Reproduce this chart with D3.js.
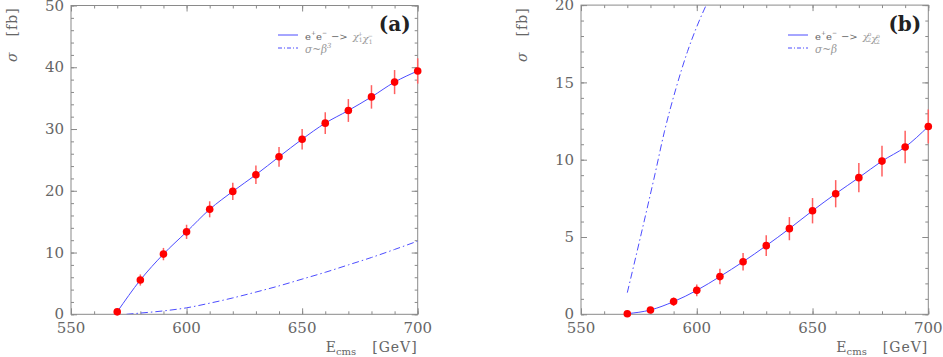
<!DOCTYPE html>
<html><head><meta charset="utf-8">
<script src="https://cdn.jsdelivr.net/npm/d3@7"></script>
<style>
html,body{margin:0;padding:0;background:#fff;}
svg{display:block;}
</style></head>
<body>
<svg id="chart" width="943" height="357" font-family="DejaVu Serif, Liberation Serif, serif"></svg>
<script>
// ---- data ----
const energies = [570,580,590,600,610,620,630,640,650,660,670,680,690,700];
// panel (a): e+e- -> chi1+ chi1-
const sigmaA = [0.4,5.55,9.75,13.35,17.0,19.9,22.6,25.5,28.35,30.95,33.0,35.2,37.6,39.4];
const errA   = [0.3,0.9,1.0,1.15,1.3,1.4,1.5,1.6,1.65,1.75,1.85,1.9,1.95,2.05];
const beta3X = [574,580,590,600,610,620,630,640,650,660,670,680,690,700];
const beta3A = [0,0.2,0.55,1.05,1.8,2.65,3.6,4.6,5.7,6.8,8.0,9.2,10.5,11.85];
// panel (b): e+e- -> chi2o chi2o
const sigmaB = [0.04,0.28,0.82,1.55,2.44,3.4,4.44,5.54,6.7,7.8,8.84,9.91,10.82,12.15];
const errB   = [0.05,0.15,0.27,0.38,0.5,0.57,0.67,0.75,0.82,0.88,0.95,1.0,1.05,1.1];
const betaX  = [570,576,582,586,591,596,600,605];
const betaB  = [1.4,5.2,9.1,11.8,14.6,17.0,18.6,20.3];
// axes
const xTicks  = [550,600,650,700];
const yTicksA = [0,10,20,30,40,50];
const yTicksB = [0,5,10,15,20];

const svg = d3.select("#chart");
const AX = "#8a8a8a", LBL = "#666", BLUE = "#4c4cff", RED = "#ff0000", ERR = "#ff6060";

function panel(cfg){
  const x = d3.scaleLinear().domain([550,700]).range([cfg.left, cfg.right]);
  const y = d3.scaleLinear().domain([0, cfg.ymax]).range([cfg.bottom, cfg.top]);
  const g = svg.append("g");
  const clipId = "clip" + cfg.id;
  svg.append("clipPath").attr("id", clipId).append("rect")
    .attr("x", cfg.left).attr("y", cfg.top)
    .attr("width", cfg.right - cfg.left).attr("height", cfg.bottom - cfg.top);

  // frame
  g.append("rect").attr("x", cfg.left).attr("y", cfg.top)
    .attr("width", cfg.right - cfg.left).attr("height", cfg.bottom - cfg.top)
    .attr("fill", "none").attr("stroke", AX).attr("stroke-width", 1);

  // ticks via d3 axes (inward)
  const xMinor = d3.range(550, 701, 10);
  const yMinor = d3.range(0, cfg.ymax + 0.001, cfg.minorY);
  function styleAxis(sel){ sel.select(".domain").remove(); sel.selectAll("line").attr("stroke", AX); sel.selectAll("text").remove(); }
  g.append("g").attr("transform", `translate(0,${cfg.bottom})`)
    .call(d3.axisTop(x).tickValues(xMinor).tickSize(3).tickFormat("")).call(styleAxis);
  g.append("g").attr("transform", `translate(0,${cfg.bottom})`)
    .call(d3.axisTop(x).tickValues(xTicks).tickSize(6).tickFormat("")).call(styleAxis);
  g.append("g").attr("transform", `translate(0,${cfg.top})`)
    .call(d3.axisBottom(x).tickValues(xMinor).tickSize(3).tickFormat("")).call(styleAxis);
  g.append("g").attr("transform", `translate(0,${cfg.top})`)
    .call(d3.axisBottom(x).tickValues(xTicks).tickSize(6).tickFormat("")).call(styleAxis);
  g.append("g").attr("transform", `translate(${cfg.left},0)`)
    .call(d3.axisRight(y).tickValues(yMinor).tickSize(3).tickFormat("")).call(styleAxis);
  g.append("g").attr("transform", `translate(${cfg.left},0)`)
    .call(d3.axisRight(y).tickValues(cfg.yTicks).tickSize(6).tickFormat("")).call(styleAxis);
  g.append("g").attr("transform", `translate(${cfg.right},0)`)
    .call(d3.axisLeft(y).tickValues(yMinor).tickSize(3).tickFormat("")).call(styleAxis);
  g.append("g").attr("transform", `translate(${cfg.right},0)`)
    .call(d3.axisLeft(y).tickValues(cfg.yTicks).tickSize(6).tickFormat("")).call(styleAxis);

  // tick labels
  g.selectAll(".xl").data(xTicks).enter().append("text")
    .attr("x", d => x(d)).attr("y", cfg.bottom + 19).attr("text-anchor", "middle")
    .attr("font-size", 15).attr("fill", LBL).text(d => d);
  g.selectAll(".yl").data(cfg.yTicks).enter().append("text")
    .attr("x", cfg.left - 7).attr("y", d => y(d)).attr("dy", "0.34em").attr("text-anchor", "end")
    .attr("font-size", 15).attr("fill", LBL).text(d => d);

  // axis titles
  const yt = g.append("text").attr("transform", `translate(${cfg.left - 54},62) rotate(-90)`)
    .attr("font-size", 14).attr("fill", LBL);
  yt.append("tspan").attr("font-style", "italic").text("σ");
  yt.append("tspan").attr("dx", 16).attr("letter-spacing", 1).text("[fb]");

  const xt = g.append("text").attr("x", cfg.right).attr("y", 352).attr("text-anchor", "end")
    .attr("font-size", 14).attr("fill", LBL);
  xt.append("tspan").text("E");
  xt.append("tspan").attr("font-size", 10).attr("dy", 3).text("cms");
  xt.append("tspan").attr("dy", -3).attr("dx", 16).attr("letter-spacing", 1).text("[GeV]");

  // panel label
  g.append("text").attr("x", cfg.right - 7).attr("y", 31).attr("text-anchor", "end")
    .attr("font-size", 20).attr("font-weight", "bold").attr("fill", "#222").text(cfg.label);

  // dash-dot curve
  const line = d3.line().x(d => x(d[0])).y(d => y(d[1])).curve(d3.curveMonotoneX);
  g.append("path").attr("clip-path", `url(#${clipId})`)
    .attr("d", line(d3.zip(cfg.dashX, cfg.dashY)))
    .attr("fill", "none").attr("stroke", BLUE).attr("stroke-width", 1)
    .attr("stroke-dasharray", "7,3,1.5,3");
  // solid curve through points
  g.append("path").attr("d", line(d3.zip(energies, cfg.sigma)))
    .attr("fill", "none").attr("stroke", BLUE).attr("stroke-width", 1);

  // error bars
  g.selectAll(".eb").data(d3.zip(energies, cfg.sigma, cfg.err)).enter().append("line")
    .attr("x1", d => x(d[0])).attr("x2", d => x(d[0]))
    .attr("y1", d => y(d[1] - d[2])).attr("y2", d => y(d[1] + d[2]))
    .attr("stroke", ERR).attr("stroke-width", 1.5);
  // points
  g.selectAll(".pt").data(d3.zip(energies, cfg.sigma)).enter().append("circle")
    .attr("cx", d => x(d[0])).attr("cy", d => y(d[1])).attr("r", 3.8).attr("fill", RED);

  // legend
  const lx = cfg.legX;
  g.append("line").attr("x1", lx).attr("x2", lx + 20).attr("y1", 35).attr("y2", 35)
    .attr("stroke", BLUE).attr("stroke-width", 1);
  g.append("line").attr("x1", lx).attr("x2", lx + 20).attr("y1", 48).attr("y2", 48)
    .attr("stroke", BLUE).attr("stroke-width", 1).attr("stroke-dasharray", "4,2,1,2");
  const t1 = g.append("text").attr("x", lx + 27).attr("y", 40).attr("font-size", 10).attr("fill", "#666");
  t1.append("tspan").text("e");
  t1.append("tspan").attr("font-size", 6).attr("dy", -5).text("+");
  t1.append("tspan").attr("dy", 5).text("e");
  t1.append("tspan").attr("font-size", 6).attr("dy", -5).text("−");
  t1.append("tspan").attr("dy", 5).attr("dx", 4).text("−>");
  cfg.chi.forEach((c, i) => {
    t1.append("tspan").attr("font-style", "italic").attr("fill", "#999").attr("dx", i === 0 ? 5 : 0).text("χ");
    t1.append("tspan").attr("font-size", 6).attr("fill", "#999").attr("dy", -4).attr("dx", -1).text(c[0]);
    t1.append("tspan").attr("font-size", 6).attr("fill", "#999").attr("dy", 6).attr("dx", -4).text(c[1]);
    t1.append("tspan").attr("font-size", 6).attr("dy", -2).text("");
  });
  const t2 = g.append("text").attr("x", lx + 27).attr("y", 53).attr("font-size", 10.5)
    .attr("fill", "#999").attr("font-style", "italic");
  t2.append("tspan").text("σ~β");
  if (cfg.pow) t2.append("tspan").attr("font-size", 7).attr("dy", -5).text(cfg.pow);
}

panel({id:"a", left:71, right:417.7, top:5.5, bottom:314.3, ymax:50, minorY:2, yTicks:yTicksA,
  sigma:sigmaA, err:errA, dashX:beta3X, dashY:beta3A, label:"(a)", legX:278,
  chi:[["+","1"],["−","1"]], pow:"3"});
panel({id:"b", left:581, right:928.3, top:5.1, bottom:314.3, ymax:20, minorY:1, yTicks:yTicksB,
  sigma:sigmaB, err:errB, dashX:betaX, dashY:betaB, label:"(b)", legX:788,
  chi:[["o","2"],["o","2"]], pow:null});
</script>
</body></html>
